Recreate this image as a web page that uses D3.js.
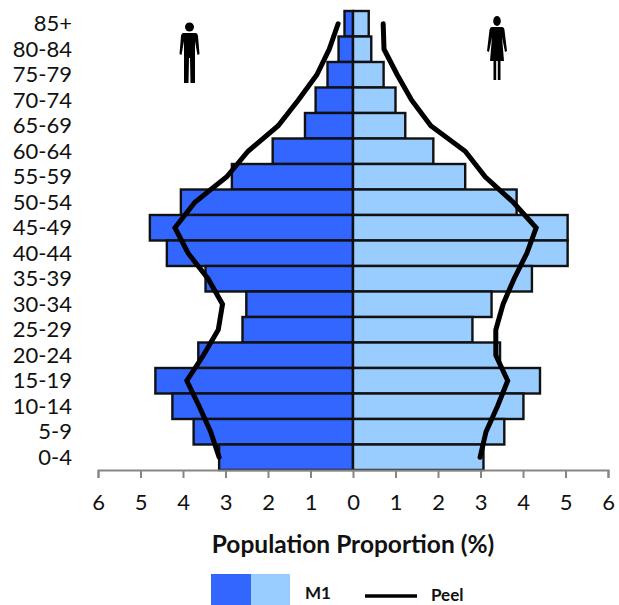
<!DOCTYPE html>
<html>
<head>
<meta charset="utf-8">
<script src="https://cdn.jsdelivr.net/npm/d3@7"></script>
<style>
  html, body { margin: 0; padding: 0; background: #fff; }
  svg { display: block; }
  text { font-family: Lato, "Open Sans", sans-serif; fill: #111; }
</style>
</head>
<body>
<script>
const ageGroups = ["85+", "80-84", "75-79", "70-74", "65-69", "60-64", "55-59", "50-54", "45-49",
  "40-44", "35-39", "30-34", "25-29", "20-24", "15-19", "10-14", "5-9", "0-4"];
const m1Male = [0.2, 0.34, 0.6, 0.88, 1.13, 1.89, 2.85, 4.05, 4.78,
  4.38, 3.47, 2.51, 2.6, 3.64, 4.65, 4.25, 3.75, 3.15];
const m1Female = [0.37, 0.43, 0.72, 1.0, 1.23, 1.89, 2.64, 3.85, 5.05,
  5.05, 4.21, 3.26, 2.81, 3.46, 4.4, 4.01, 3.56, 3.07];
const peelMale = [0.35, 0.56, 0.85, 1.29, 1.76, 2.47, 2.97, 3.72, 4.19,
  3.88, 3.41, 3.07, 3.17, 3.52, 3.91, 3.62, 3.35, 3.15];
const peelFemale = [0.71, 0.73, 1.04, 1.38, 1.83, 2.64, 3.11, 3.77, 4.31,
  4.09, 3.79, 3.53, 3.36, 3.36, 3.64, 3.4, 3.13, 2.99];
const xTicks = [-6, -5, -4, -3, -2, -1, 0, 1, 2, 3, 4, 5, 6];

const width = 619;
const height = 605;
const maleColor = "#3366ff";
const femaleColor = "#99ccff";

const xScale = d3.scaleLinear().domain([-6, 6]).range([98, 608]);
const yScale = d3.scaleBand().domain(ageGroups).range([11, 470]);

const svg = d3.select("body").append("svg")
  .attr("width", width)
  .attr("height", height);

const center = (d) => yScale(d) + yScale.bandwidth() / 2;

// bars, male side goes left of zero
const barGroup = svg.append("g").attr("stroke", "#111").attr("stroke-width", 2.4);

barGroup.selectAll(".male")
  .data(ageGroups)
  .enter()
  .append("rect")
  .attr("class", "male")
  .attr("fill", maleColor)
  .attr("x", (d, i) => xScale(-m1Male[i]))
  .attr("y", (d) => yScale(d))
  .attr("width", (d, i) => xScale(0) - xScale(-m1Male[i]))
  .attr("height", yScale.bandwidth());

barGroup.selectAll(".female")
  .data(ageGroups)
  .enter()
  .append("rect")
  .attr("class", "female")
  .attr("fill", femaleColor)
  .attr("x", xScale(0))
  .attr("y", (d) => yScale(d))
  .attr("width", (d, i) => xScale(m1Female[i]) - xScale(0))
  .attr("height", yScale.bandwidth());

// x axis, labels drawn unsigned
const xAxis = d3.axisBottom(xScale)
  .tickValues(xTicks)
  .tickSize(8)
  .tickPadding(16)
  .tickFormat((d) => Math.abs(d));

const axisGroup = svg.append("g")
  .attr("transform", "translate(0 470)")
  .call(xAxis);

axisGroup.select(".domain").attr("stroke", "#868686").attr("stroke-width", 2);
axisGroup.selectAll(".tick line").attr("stroke", "#868686").attr("stroke-width", 2);
axisGroup.selectAll("text")
  .attr("font-size", 22)
  .attr("font-family", "Lato, sans-serif")
  .attr("fill", "#111");

// age labels
svg.append("g")
  .selectAll("text")
  .data(ageGroups)
  .enter()
  .append("text")
  .attr("x", 72)
  .attr("y", (d) => center(d))
  .attr("dy", "0.35em")
  .attr("text-anchor", "end")
  .attr("font-size", 22)
  .text((d) => d);

// Peel outline
const peelLine = (values, sign) =>
  d3.line()
    .x((d, i) => xScale(sign * values[i]))
    .y((d) => center(d))(ageGroups);

[[peelMale, -1], [peelFemale, 1]].forEach(([values, sign]) => {
  svg.append("path")
    .attr("d", peelLine(values, sign))
    .attr("fill", "none")
    .attr("stroke", "#000")
    .attr("stroke-width", 5)
    .attr("stroke-linecap", "round")
    .attr("stroke-linejoin", "miter");
});

// pictograms
const man = svg.append("g").attr("transform", "translate(189.5 22)").attr("fill", "#000");
man.append("circle").attr("cx", 0).attr("cy", 5).attr("r", 4.5);
man.append("path").attr("d",
  "M-6,11 L6,11 Q8,11 8.5,14 L10,32 L8,33 L5.5,19 L5.5,61 L1,61 L0.5,36 L-0.5,36 L-1,61 L-5.5,61 L-5.5,19 L-8,33 L-10,32 L-8.5,14 Q-8,11 -6,11 Z");

const woman = svg.append("g").attr("transform", "translate(497 16)").attr("fill", "#000");
woman.append("ellipse").attr("cx", 0).attr("cy", 5).attr("rx", 3.8).attr("ry", 5);
woman.append("path").attr("d",
  "M-5,11 L5,11 Q7,11 7.5,14 L10,35 L8,36 L5,21 L7,45 L3.5,45 L3.5,64 L0.8,64 L0.8,45 L-0.8,45 L-0.8,64 L-3.5,64 L-3.5,45 L-7,45 L-5,21 L-8,36 L-10,35 L-7.5,14 Q-7,11 -5,11 Z");

// axis title
svg.append("text")
  .attr("x", 353)
  .attr("y", 553)
  .attr("text-anchor", "middle")
  .attr("font-size", 24.5)
  .attr("font-weight", 700)
  .text("Population Proportion (%)");

// legend
svg.append("rect").attr("x", 211).attr("y", 574).attr("width", 40).attr("height", 31).attr("fill", maleColor);
svg.append("rect").attr("x", 251).attr("y", 574).attr("width", 39).attr("height", 31).attr("fill", femaleColor);
svg.append("text").attr("x", 305).attr("y", 599).attr("font-size", 17).attr("font-weight", 700).text("M1");
svg.append("line").attr("x1", 365).attr("x2", 417).attr("y1", 596).attr("y2", 596)
  .attr("stroke", "#000").attr("stroke-width", 3.5);
svg.append("text").attr("x", 431).attr("y", 601).attr("font-size", 17).attr("font-weight", 700).text("Peel");
</script>
</body>
</html>
